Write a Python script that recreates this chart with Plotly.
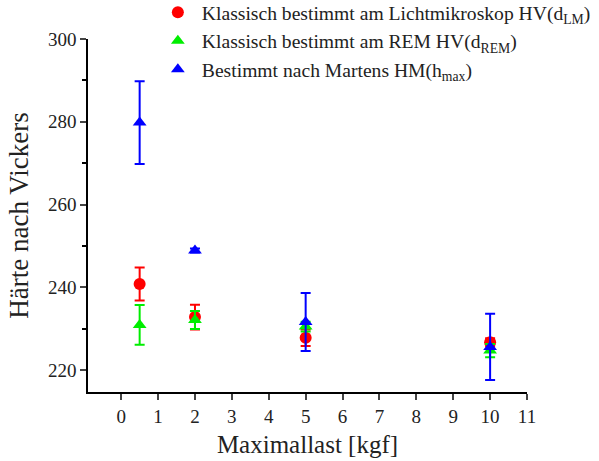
import plotly.graph_objects as go

last = [0.5, 2, 5, 10]

hv_lm = [240.8, 232.8, 227.8, 226.7]
hv_lm_err = [4.0, 3.0, 2.0, 1.0]

hv_rem = [230.9, 232.1, 230.5, 224.7]
hv_rem_err = [4.8, 2.2, 1.2, 1.6]

hm_max = [279.8, 248.9, 231.6, 225.6]
hm_max_err = [10.0, 0.5, 7.0, 8.0]

names = [
    "Klassisch bestimmt am Lichtmikroskop HV(d<sub>LM</sub>)",
    "Klassisch bestimmt am REM HV(d<sub>REM</sub>)",
    "Bestimmt nach Martens HM(h<sub>max</sub>)",
]
colors = ["#ff0000", "#00ee00", "#0000ff"]
symbols = ["circle", "triangle-up", "triangle-up"]

fig = go.Figure()
for name, ys, errs, col, sym in zip(names, [hv_lm, hv_rem, hm_max],
                                     [hv_lm_err, hv_rem_err, hm_max_err], colors, symbols):
    fig.add_trace(go.Scatter(
        x=last, y=ys, mode="markers", name=name,
        marker=dict(color=col, symbol=sym, size=12, line=dict(width=0)),
        error_y=dict(type="data", array=errs, visible=True, color=col, thickness=2, width=5),
    ))

font = "Liberation Serif, Times New Roman, serif"
fig.update_layout(
    width=599, height=461,
    margin=dict(l=88, r=72, t=39, b=69, autoexpand=False),
    paper_bgcolor="white", plot_bgcolor="white",
    font=dict(family=font, color="black", size=19),
    legend=dict(x=0.150, y=1.13, xanchor="left", yanchor="top",
                font=dict(family=font, size=19.6, color="#222222"), bgcolor="rgba(0,0,0,0)",
                itemwidth=38),
    xaxis=dict(
        range=[-0.9, 11], tickmode="array", tickvals=list(range(0, 12)),
        ticks="outside", ticklen=6, tickwidth=1.5, showline=True, linewidth=1.5,
        linecolor="black", showgrid=False, zeroline=False, automargin=False,
        tickfont=dict(size=19, color="#222222"),
        title=dict(text="Maximallast [kgf]", font=dict(size=25, color="#222222"), standoff=10),
    ),
    yaxis=dict(
        range=[214.7, 300], tickmode="array", tickvals=[220, 240, 260, 280, 300],
        ticks="outside", ticklen=6, tickwidth=1.5, showline=True, linewidth=1.5,
        linecolor="black", showgrid=False, zeroline=False, automargin=False,
        minor=dict(tickvals=[230, 250, 270, 290], ticks="outside", ticklen=4, tickwidth=1.5, tickcolor="black"),
        tickfont=dict(size=19, color="#222222"),
        title=dict(text="Härte nach Vickers", font=dict(size=27, color="#222222"), standoff=12),
    ),
)

fig.write_html("out.html")
